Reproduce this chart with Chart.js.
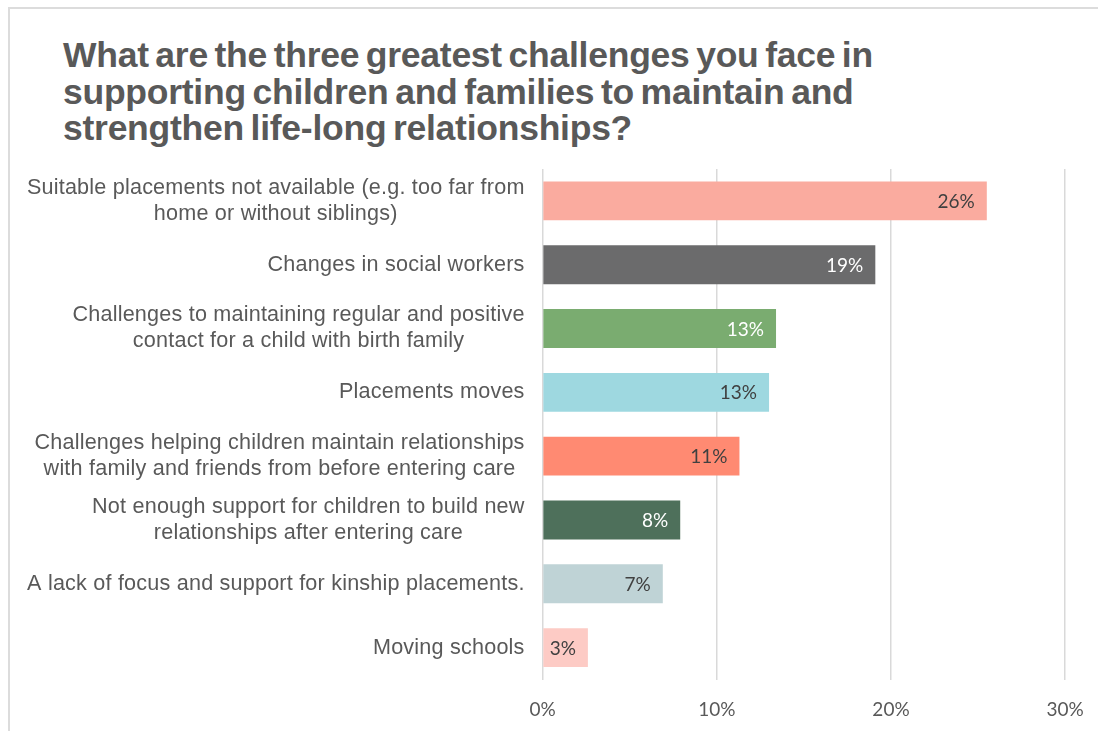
<!DOCTYPE html>
<html>
<head>
<meta charset="utf-8">
<script src="https://cdn.jsdelivr.net/npm/chart.js@4.4.1/dist/chart.umd.min.js"></script>
<style>
  html, body { margin: 0; padding: 0; background: #ffffff; }
  body { width: 1098px; height: 731px; position: relative; overflow: hidden; }
  #frame {
    position: absolute; left: 8px; top: 7px; right: -4px; bottom: -4px;
    border-left: 2px solid #dcdcdc; border-top: 2px solid #dcdcdc;
  }
  #title {
    position: absolute; left: 63px; top: 37px; margin: 0;
    font-family: "Liberation Sans", Arial, sans-serif; font-weight: bold;
    font-size: 35.5px; line-height: 36.5px; color: #595959;
    letter-spacing: -0.25px; word-spacing: -3px; white-space: nowrap;
  }
  #chart { position: absolute; left: 0; top: 0; }
</style>
</head>
<body>
<div id="frame"></div>
<h1 id="title">What are the three greatest challenges you face in<br>supporting children and families to maintain and<br>strengthen life-long relationships?</h1>
<canvas id="chart" width="1098" height="731"></canvas>
<script>
// Survey responses: share of respondents naming each challenge (%)
const categories = [
  ["Suitable placements not available (e.g. too far from", "home or without siblings)"],
  ["Changes in social workers"],
  ["Challenges to maintaining regular and positive", "contact for a child with birth family"],
  ["Placements moves"],
  ["Challenges helping children maintain relationships", "with family and friends from before entering care"],
  ["Not enough support for children to build new", "relationships after entering care"],
  ["A lack of focus and support for kinship placements."],
  ["Moving schools"]
];
const shares = [25.5, 19.1, 13.4, 13.0, 11.3, 7.9, 6.9, 2.6];
const xTicks = [0, 10, 20, 30];

const barColors = ["#FAAB9F", "#6B6B6C", "#7AAC70", "#9ED8E0", "#FF8A72", "#4E705B", "#BFD3D6", "#FDCBC5"];
const valueColors = ["#404040", "#ffffff", "#ffffff", "#404040", "#404040", "#ffffff", "#404040", "#404040"];

const PLOT_LEFT = 542.6;
const PLOT_TOP = 169;
const PLOT_BOTTOM = 679.5;
const RIGHT_PAD = 32.8;

// Value labels placed inside the end of each bar
const valueLabels = {
  id: 'valueLabels',
  afterDatasetsDraw(chart) {
    const ctx = chart.ctx;
    const meta = chart.getDatasetMeta(0);
    ctx.save();
    ctx.font = '19px Lato, "Open Sans", sans-serif';
    ctx.textAlign = 'right';
    ctx.textBaseline = 'middle';
    meta.data.forEach((bar, i) => {
      ctx.fillStyle = valueColors[i];
      ctx.fillText(Math.round(shares[i]) + '%', bar.x - 12, bar.y + 1);
    });
    ctx.restore();
  }
};

// Category labels: each block right-aligned to the axis, lines centred within it
const categoryLabels = {
  id: 'categoryLabels',
  afterDraw(chart) {
    const ctx = chart.ctx;
    const yScale = chart.scales.y;
    const right = chart.chartArea.left - 18;
    const lineH = 26;
    ctx.save();
    ctx.font = '21.6px "Liberation Sans", Arial, sans-serif';
    if ('letterSpacing' in ctx) ctx.letterSpacing = '0.2px';
    ctx.fillStyle = '#595959';
    ctx.textAlign = 'center';
    ctx.textBaseline = 'middle';
    categories.forEach((lines, i) => {
      const y = yScale.getPixelForValue(i);
      const w = Math.max(...lines.map(l => ctx.measureText(l).width));
      const cx = right - w / 2;
      const y0 = y - (lines.length - 1) * lineH / 2;
      lines.forEach((line, k) => ctx.fillText(line, cx, y0 + k * lineH));
    });
    ctx.restore();
  }
};

new Chart(document.getElementById('chart'), {
  type: 'bar',
  data: {
    labels: categories,
    datasets: [{
      data: shares,
      backgroundColor: barColors,
      borderWidth: 0,
      barPercentage: 0.61,
      categoryPercentage: 1.0
    }]
  },
  options: {
    indexAxis: 'y',
    responsive: false,
    animation: false,
    devicePixelRatio: 1,
    layout: { padding: { left: 0, top: PLOT_TOP, right: RIGHT_PAD, bottom: 0 } },
    plugins: {
      legend: { display: false },
      title: { display: false },
      tooltip: { enabled: false }
    },
    scales: {
      x: {
        min: 0,
        max: 30,
        afterFit(scale) {
          scale.height = 731 - PLOT_BOTTOM;
          scale.paddingLeft = 0;
          scale.paddingRight = 0;
        },
        afterBuildTicks(scale) { scale.ticks = xTicks.map(v => ({ value: v })); },
        grid: { color: '#d9d9d9', lineWidth: 1.5, drawTicks: false },
        border: { display: false },
        ticks: {
          padding: 19,
          color: '#595959',
          font: { family: 'Lato, "Open Sans", sans-serif', size: 19 },
          callback: v => v + '%'
        }
      },
      y: {
        afterFit(scale) { scale.width = PLOT_LEFT; },
        grid: { display: false },
        border: { display: false },
        ticks: { display: false }
      }
    }
  },
  plugins: [valueLabels, categoryLabels]
});
</script>
</body>
</html>
